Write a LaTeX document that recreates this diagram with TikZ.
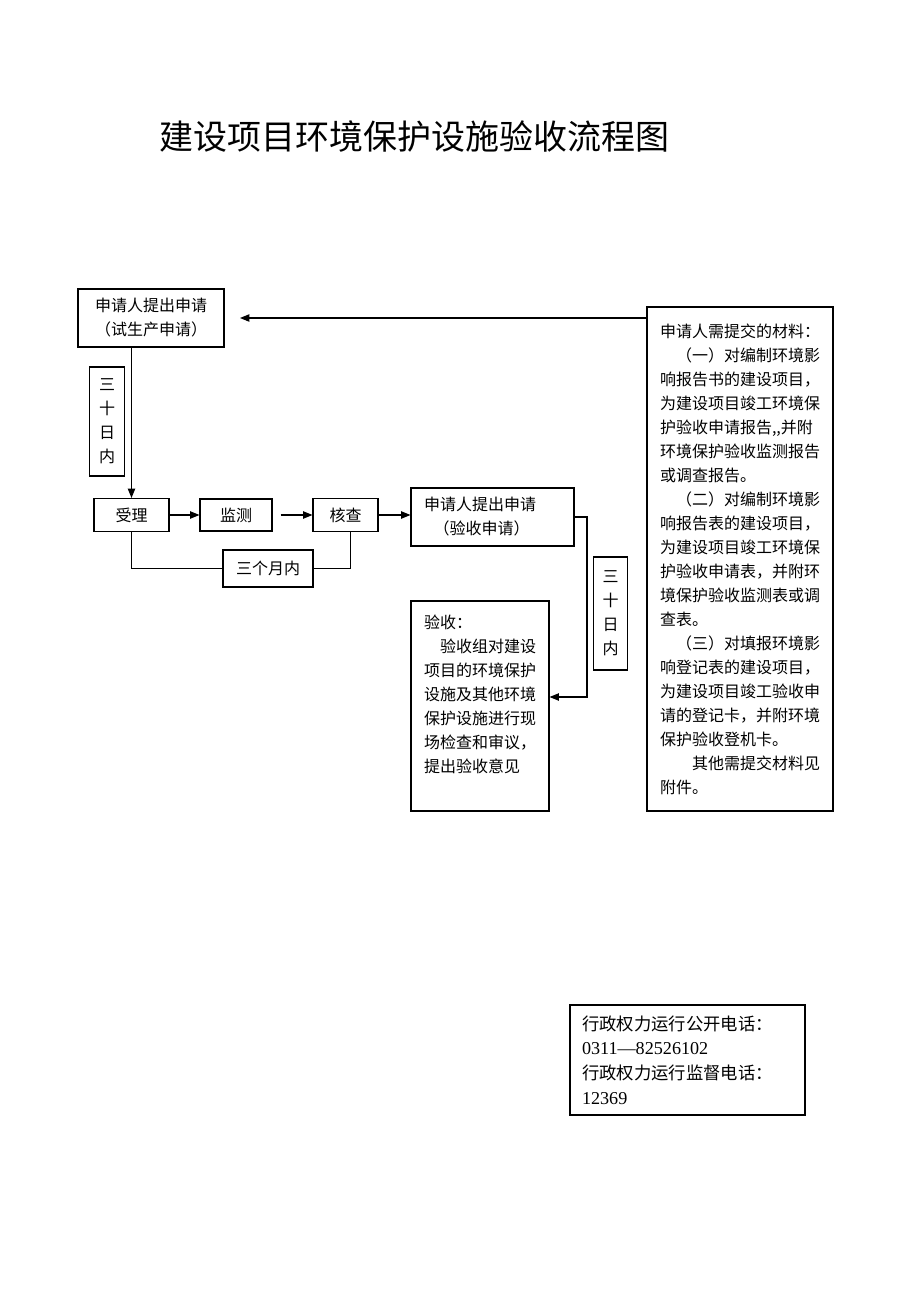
\documentclass[tikz,border=0pt]{standalone}
\usepackage{fontspec}
\usepackage{tikz}
\usetikzlibrary{arrows.meta}
\setmainfont{Liberation Serif}
\newfontfamily\cjk{Noto Sans CJK SC}
\tikzset{
  flowbox/.style={draw=black, line width=0.8pt, inner sep=0pt,
                  font=\cjk\fontsize{12}{18}\selectfont},
  dayslot/.style={flowbox, align=center, minimum width=26pt},
  flowline/.style={line width=0.8pt},
  flowarrow/.style={flowline, -{Triangle[length=7pt,width=5.5pt]}}
}

\begin{document}
\begin{tikzpicture}[x=0.75pt,y=-0.75pt]
      \path[fill=white] (0,0) rectangle (920,1302);

      % title
      \node (title) at (414,137) {\cjk\fontsize{25.5}{30}\selectfont 建设项目环境保护设施验收流程图};

      % first application
      \node[flowbox, align=center, minimum width=109.5pt, minimum height=43.5pt]
        (applytrial) at (151,318) {申请人提出申请\\（试生产申请）};
      \node[dayslot, minimum height=81.75pt] (days1) at (107,421.5) {三\\十\\日\\内};

      % handling chain
      \node[flowbox, minimum width=56.25pt, minimum height=24.75pt] (accept) at (131.5,515) {受理};
      \node[flowbox, minimum width=54pt, minimum height=24pt] (monitor) at (236,515) {监测};
      \node[flowbox, minimum width=48.75pt, minimum height=24.75pt] (verify) at (345.5,515) {核查};
      \node[flowbox, minimum width=67.5pt, minimum height=27.75pt] (months) at (268,568.5) {三个月内};
      \node[flowbox, align=left, text width=102.75pt, inner xsep=9.75pt, minimum height=43.5pt]
        (applyfinal) at (492.5,517) {申请人提出申请\\\hspace*{0.6em}（验收申请）};
      \node[dayslot, minimum height=84.75pt] (days2) at (610.5,613.5) {三\\十\\日\\内};

      % acceptance
      \node[flowbox, align=left, text width=84pt, inner xsep=9.75pt, minimum height=157.5pt]
        (check) at (480,706) {验收：\\\hspace*{1em}验收组对建设\\项目的环境保护\\设施及其他环境\\保护设施进行现\\场检查和审议，\\提出验收意见\\~};

      % materials
      \node[flowbox, align=left, text width=120pt, inner xsep=9.75pt, minimum height=378pt]
        (materials) at (740,559) {申请人需提交的材料：\\
          \hspace*{1em}（一）对编制环境影\\响报告书的建设项目，\\为建设项目竣工环境保\\护验收申请报告,,并附\\环境保护验收监测报告\\或调查报告。\\
          \hspace*{1em}（二）对编制环境影\\响报告表的建设项目，\\为建设项目竣工环境保\\护验收申请表，并附环\\境保护验收监测表或调\\查表。\\
          \hspace*{1em}（三）对填报环境影\\响登记表的建设项目，\\为建设项目竣工验收申\\请的登记卡，并附环境\\保护验收登机卡。\\
          \hspace*{2em}其他需提交材料见\\附件。};

      % phone numbers
      \node[draw=black, line width=0.8pt, align=left, text width=158.25pt, inner xsep=9pt,
            minimum height=82.5pt, font=\fontsize{13.6}{18.4}\selectfont]
        (phones) at (687.5,1060) {{\cjk\fontsize{13}{18.4}\selectfont 行政权力运行公开电话：}\\0311—82526102\\{\cjk\fontsize{13}{18.4}\selectfont 行政权力运行监督电话：}\\12369};

      % connectors
      \coordinate (backtip) at (240,318);
      \draw[flowarrow] (materials.west |- backtip) -- (backtip);
      \draw[flowarrow] (accept.north |- applytrial.south) -- (accept.north);
      \draw[flowarrow] (accept.east) -- (monitor.west);
      \draw[flowarrow] ([xshift=6pt]monitor.east) -- (verify.west);
      \draw[flowarrow] (verify.east) -- (verify.east -| applyfinal.west);
      \draw[flowline] (accept.south) |- (months.west);
      \draw[flowline] (months.east) -| ([xshift=4pt]verify.south);
      \coordinate (bend) at (587,697);
      \draw[flowarrow] (applyfinal.east) -| (bend) -- (check.east |- bend);
    \end{tikzpicture}
\end{document}
